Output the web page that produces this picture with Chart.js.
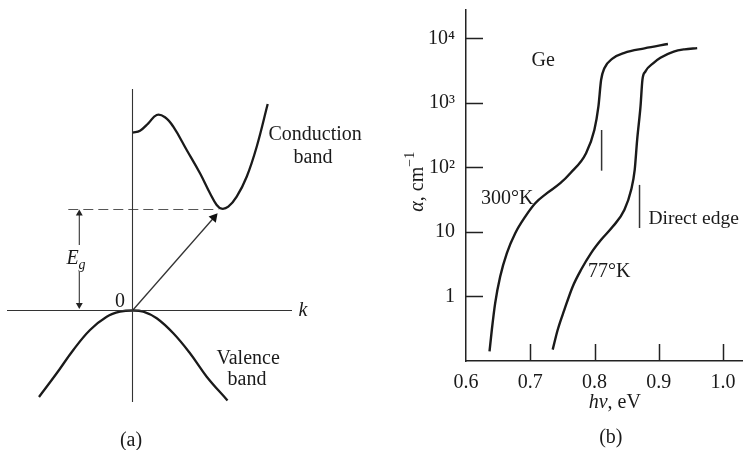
<!DOCTYPE html>
<html>
<head>
<meta charset="utf-8">
<script src="https://cdn.jsdelivr.net/npm/chart.js@4/dist/chart.umd.min.js"></script>
<style>
  html, body { margin: 0; padding: 0; background: #fff; }
  #wrap { position: relative; width: 743px; height: 450px; overflow: hidden; background: #fff; }
  canvas { position: absolute; top: 0; }
  #cA { left: 0; }
  #cB { left: 372px; }
</style>
</head>
<body>
<div id="wrap">
  <canvas id="cA" width="380" height="450"></canvas>
  <canvas id="cB" width="371" height="450"></canvas>
</div>
<script>
// ---------------- Panel (a): E–k band diagram (arbitrary units) ----------------
const condK = [0.00, 0.075, 0.158, 0.242, 0.325, 0.408, 0.542, 0.675, 0.775, 0.842, 0.892, 0.958, 1.042, 1.142, 1.242, 1.352];
const condE = [1.778, 1.798, 1.872, 1.955, 1.932, 1.838, 1.605, 1.372, 1.172, 1.055, 1.018, 1.038, 1.138, 1.338, 1.638, 2.065];
const valK  = [-0.935, -0.758, -0.592, -0.425, -0.258, -0.125, 0.00, 0.108, 0.242, 0.408, 0.575, 0.742, 0.95];
const valE  = [-0.865, -0.628, -0.395, -0.195, -0.062, -0.012, 0.00, -0.012, -0.078, -0.228, -0.428, -0.662, -0.90];
const Eg = 1.01;            // gap level (dashed line)
const EgArrowK = -0.532;    // position of the Eg dimension arrow
const condMinK = 0.86;      // k of conduction-band minimum (end of dashed line)
const kAxis = [-1.255, 1.595];
const EAxis = [-0.915, 2.215];
const transitionK = [0, 0.815];
const transitionE = [0, 0.93];

// ---------------- Panel (b): absorption coefficient of Ge ----------------
const hv300    = [0.6366, 0.6402, 0.6454, 0.6532, 0.6636, 0.6766, 0.6922, 0.7077, 0.7260, 0.7467, 0.7623, 0.7868, 0.7997, 0.806, 0.8102, 0.8153, 0.8284, 0.8465, 0.8777, 0.9142];
const alpha300 = [0.141, 0.305, 0.79, 2.04, 4.70, 9.57, 17.3, 27.9, 39.9, 56.9, 81.3, 166, 380, 873, 2260, 3430, 4900, 5980, 7000, 8170];
const hv77     = [0.7349, 0.7427, 0.7530, 0.7661, 0.7790, 0.7946, 0.8102, 0.8284, 0.8465, 0.8570, 0.8625, 0.8663, 0.8715, 0.8745, 0.8790, 0.8920, 0.9025, 0.9232, 0.9400, 0.9597];
const alpha77  = [0.150, 0.305, 0.62, 1.43, 2.59, 4.70, 7.55, 12.1, 22.0, 44.9, 91.5, 267, 873, 2275, 3055, 4170, 5000, 6240, 6760, 7050];
const edge300hv = 0.811, edge300alpha = [89, 380];
const edge77hv  = 0.870, edge77alpha  = [11.5, 53.6];
const xTicks = [0.6, 0.7, 0.8, 0.9, 1.0];
const xTickLabels = ['0.6', '0.7', '0.8', '0.9', '1.0'];
const yTicks = [1, 10, 100, 1000, 10000];
const yTickLabels = ['1', '10', '10\u00B2', '10\u00B3', '10\u2074'];

// ---------------- helpers ----------------
const FAMILY = '"Liberation Serif", "Times New Roman", "DejaVu Serif", serif';
const INK = '#1a1a1a';
const pts = (xs, ys) => xs.map((x, i) => ({ x: x, y: ys[i] }));

function drawRich(ctx, parts, x, y, opt) {
  opt = opt || {};
  const size = opt.size || 20;
  const fontFor = p => (p.i ? 'italic ' : '') + ((p.sup || p.sub) ? Math.round(size * 0.68) : size) + 'px ' + FAMILY;
  ctx.save();
  ctx.translate(x, y);
  if (opt.rotate) ctx.rotate(opt.rotate);
  ctx.fillStyle = INK;
  ctx.textBaseline = 'alphabetic';
  let w = 0;
  for (const p of parts) { ctx.font = fontFor(p); w += ctx.measureText(p.t).width; }
  let cx = opt.align === 'left' ? 0 : (opt.align === 'right' ? -w : -w / 2);
  const base = size * 0.33;
  for (const p of parts) {
    ctx.font = fontFor(p);
    const dy = p.sup ? -size * 0.45 : (p.sub ? size * 0.25 : 0);
    ctx.fillText(p.t, cx, base + dy);
    cx += ctx.measureText(p.t).width;
  }
  ctx.restore();
}

// ---------------- Chart (a) ----------------
const labelsA = [
  { parts: [{ t: 'Conduction' }], k: 1.36, E: 1.775, align: 'left' },
  { parts: [{ t: 'band' }], k: 1.805, E: 1.545 },
  { parts: [{ t: 'Valence' }], k: 0.84, E: -0.465, align: 'left' },
  { parts: [{ t: 'band' }], k: 1.145, E: -0.675 },
  { parts: [{ t: 'k', i: true }], k: 1.705, E: 0.015 },
  { parts: [{ t: '0' }], k: -0.125, E: 0.105 },
  { parts: [{ t: 'E', i: true }, { t: 'g', i: true, sub: true }], k: -0.565, E: 0.535 },
  { parts: [{ t: '(a)' }], k: -0.015, E: -1.285 }
];

const textPluginA = {
  id: 'textA',
  afterDatasetsDraw(chart) {
    const { ctx, scales } = chart;
    for (const l of labelsA) {
      drawRich(ctx, l.parts, scales.x.getPixelForValue(l.k), scales.y.getPixelForValue(l.E), { align: l.align, size: 20 });
    }
  }
};

const thin = { showLine: true, pointRadius: 0, borderColor: '#333', borderWidth: 1.1, fill: false };
const thick = { showLine: true, pointRadius: 0, borderColor: INK, borderWidth: 2.3, fill: false, tension: 0.4 };

new Chart(document.getElementById('cA'), {
  type: 'scatter',
  data: {
    datasets: [
      Object.assign({ data: pts(kAxis, [0, 0]) }, thin),
      Object.assign({ data: pts([0, 0], EAxis) }, thin),
      Object.assign({ data: pts(condK, condE) }, thick),
      Object.assign({ data: pts(valK, valE) }, thick),
      Object.assign({ data: pts([-0.642, condMinK], [Eg, Eg]) }, thin, { borderDash: [10, 5], borderColor: '#555' }),
      Object.assign({ data: pts([EgArrowK, EgArrowK], [0.655, Eg - 0.04]) }, thin, {
        pointRadius: [0, 4], pointStyle: 'triangle', rotation: 0, pointBackgroundColor: '#222', pointBorderColor: '#222', pointBorderWidth: 0 }),
      Object.assign({ data: pts([EgArrowK, EgArrowK], [0.385, 0.055]) }, thin, {
        pointRadius: [0, 4], pointStyle: 'triangle', rotation: 180, pointBackgroundColor: '#222', pointBorderColor: '#222', pointBorderWidth: 0 }),
      Object.assign({ data: pts(transitionK, transitionE) }, thin, {
        borderWidth: 1.3, pointRadius: [0, 5.5], pointStyle: 'triangle', rotation: 41, pointBackgroundColor: '#111', pointBorderColor: '#111', pointBorderWidth: 0 })
    ]
  },
  options: {
    responsive: false, animation: false,
    layout: { padding: 0, autoPadding: false },
    plugins: { legend: { display: false }, tooltip: { enabled: false } },
    scales: {
      x: { type: 'linear', display: false, min: -1.325, max: 2.475 },
      y: { type: 'linear', display: false, min: -1.395, max: 3.105 }
    }
  },
  plugins: [textPluginA]
});

// ---------------- Chart (b) ----------------
const labelsB = [
  { parts: [{ t: 'Ge' }], hv: 0.720, a: 4650, size: 20 },
  { parts: [{ t: '300\u00B0K' }], hv: 0.664, a: 33.7, size: 20 },
  { parts: [{ t: '77\u00B0K' }], hv: 0.823, a: 2.58, size: 20 },
  { parts: [{ t: 'Direct edge' }], hv: 0.8838, a: 16.5, align: 'left', size: 19.5 }
];

const decorPluginB = {
  id: 'decorB',
  afterDraw(chart) {
    const { ctx, scales, chartArea } = chart;
    const xs = scales.x, ys = scales.y;
    ctx.save();
    ctx.strokeStyle = '#222';
    ctx.lineWidth = 1.5;
    ctx.beginPath();
    for (const v of xTicks) {
      if (v === xs.min) continue;
      const px = Math.round(xs.getPixelForValue(v)) + 0.5;
      ctx.moveTo(px, chartArea.bottom); ctx.lineTo(px, chartArea.bottom - 17);
    }
    for (const v of yTicks) {
      const py = Math.round(ys.getPixelForValue(v)) + 0.5;
      ctx.moveTo(chartArea.left, py); ctx.lineTo(chartArea.left + 17, py);
    }
    ctx.stroke();
    ctx.restore();
    for (const l of labelsB) {
      drawRich(ctx, l.parts, xs.getPixelForValue(l.hv), ys.getPixelForValue(l.a), { align: l.align, size: l.size });
    }
    // axis titles
    drawRich(ctx, [{ t: 'h\u03BD', i: true }, { t: ', eV' }], xs.getPixelForValue(0.8315), chartArea.bottom + 40, { size: 20 });
    drawRich(ctx, [{ t: '(b)' }], xs.getPixelForValue(0.8253), chartArea.bottom + 75, { size: 20 });
    drawRich(ctx, [{ t: '\u03B1', i: true }, { t: ', cm' }, { t: '\u22121', sup: true }], chartArea.left - 50, ys.getPixelForValue(60), { size: 20, rotate: -Math.PI / 2 });
  }
};

const curve = { showLine: true, pointRadius: 0, borderColor: INK, borderWidth: 2.4, fill: false, cubicInterpolationMode: 'monotone' };
const marker = { showLine: true, pointRadius: 0, borderColor: '#333', borderWidth: 1.5, fill: false };

new Chart(document.getElementById('cB'), {
  type: 'scatter',
  data: {
    datasets: [
      Object.assign({ data: pts(hv300, alpha300) }, curve),
      Object.assign({ data: pts(hv77, alpha77) }, curve),
      Object.assign({ data: pts([edge300hv, edge300hv], edge300alpha) }, marker),
      Object.assign({ data: pts([edge77hv, edge77hv], edge77alpha) }, marker)
    ]
  },
  options: {
    responsive: false, animation: false,
    layout: { padding: { top: 10, right: 0, bottom: 0, left: 0 }, autoPadding: false },
    plugins: { legend: { display: false }, tooltip: { enabled: false } },
    scales: {
      x: {
        type: 'linear', position: 'bottom', min: 0.6, max: 1.031,
        afterBuildTicks: s => { s.ticks = xTicks.map(v => ({ value: v })); },
        afterFit: s => { s.height = 89; s.paddingLeft = 0; s.paddingRight = 0; },
        grid: { display: false, drawTicks: false },
        border: { display: true, color: '#222', width: 1.5 },
        ticks: { padding: 10, color: INK, font: { family: FAMILY, size: 20 }, maxRotation: 0,
          callback: (v) => xTickLabels[xTicks.indexOf(v)] ?? '' }
      },
      y: {
        type: 'logarithmic', position: 'left', min: 0.1, max: 27500,
        afterBuildTicks: s => { s.ticks = yTicks.map(v => ({ value: v })); },
        afterFit: s => { s.width = 94; s.paddingTop = 0; s.paddingBottom = 0; },
        grid: { display: false, drawTicks: false },
        border: { display: true, color: '#222', width: 1.5 },
        ticks: { padding: 11, color: INK, font: { family: FAMILY, size: 20 },
          callback: (v) => yTickLabels[yTicks.indexOf(v)] ?? '' }
      }
    }
  },
  plugins: [decorPluginB]
});
</script>
</body>
</html>
